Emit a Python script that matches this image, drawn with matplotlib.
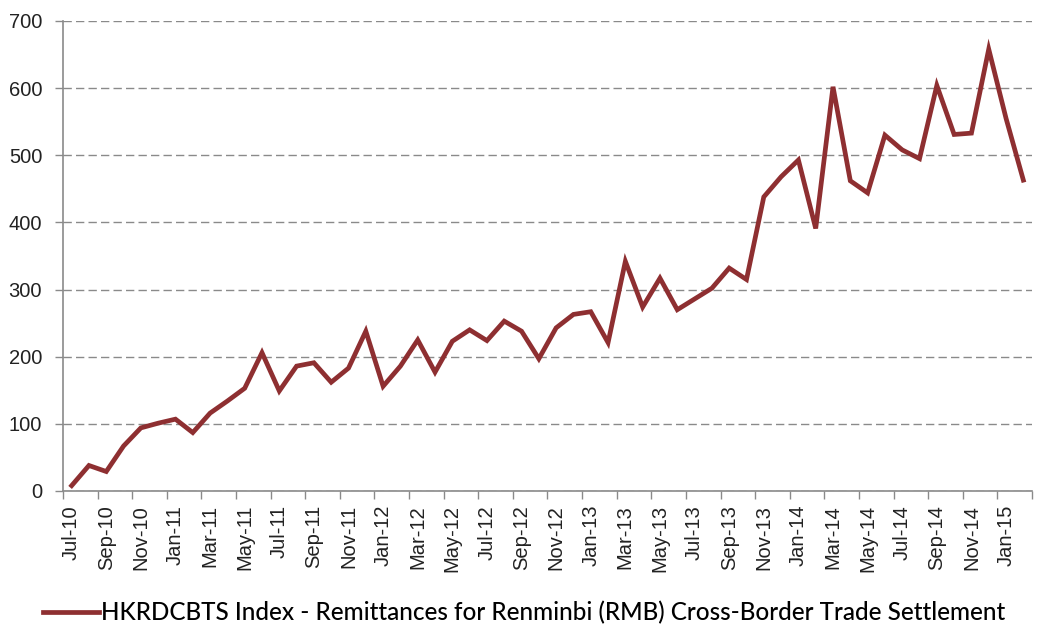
import matplotlib
matplotlib.use("Agg")
import matplotlib.pyplot as plt
import numpy as np

months = ["Jul-10", "Aug-10", "Sep-10", "Oct-10", "Nov-10", "Dec-10",
          "Jan-11", "Feb-11", "Mar-11", "Apr-11", "May-11", "Jun-11",
          "Jul-11", "Aug-11", "Sep-11", "Oct-11", "Nov-11", "Dec-11",
          "Jan-12", "Feb-12", "Mar-12", "Apr-12", "May-12", "Jun-12",
          "Jul-12", "Aug-12", "Sep-12", "Oct-12", "Nov-12", "Dec-12",
          "Jan-13", "Feb-13", "Mar-13", "Apr-13", "May-13", "Jun-13",
          "Jul-13", "Aug-13", "Sep-13", "Oct-13", "Nov-13", "Dec-13",
          "Jan-14", "Feb-14", "Mar-14", "Apr-14", "May-14", "Jun-14",
          "Jul-14", "Aug-14", "Sep-14", "Oct-14", "Nov-14", "Dec-14",
          "Jan-15", "Feb-15"]

values = [8, 38, 29, 67, 94, 101, 107, 87, 116, 134, 153, 206,
          149, 186, 191, 162, 183, 238, 156, 186, 225, 177, 223, 240,
          224, 253, 238, 197, 243, 263, 267, 221, 342, 274, 317, 270,
          286, 302, 332, 315, 438, 468, 493, 391, 602, 462, 444, 530,
          508, 495, 604, 531, 533, 658, 555, 463]

series_label = "HKRDCBTS Index - Remittances for Renminbi (RMB) Cross-Border Trade Settlement"
yticks = [0, 100, 200, 300, 400, 500, 600, 700]

line_color = "#8e2f31"
grid_color = "#8a8a8a"

plt.rcParams['font.family'] = ['Liberation Sans', 'DejaVu Sans']

fig = plt.figure(figsize=(10.37, 6.28), dpi=100)
ax = fig.add_axes([63 / 1037, 1 - 491 / 628, (1032 - 63) / 1037, (491 - 21) / 628])

x = np.arange(len(values))
ax.plot(x, values, color=line_color, linewidth=3.4, solid_joinstyle='miter',
        label=series_label, zorder=3)

ax.set_xlim(-0.5, len(values) - 0.5)
ax.set_ylim(0, 700)
ax.set_yticks(yticks)
ax.set_yticklabels([str(v) for v in yticks], fontsize=14.5, color="#222222")

ax.set_xticks(x[::2])
ax.set_xticklabels(months[::2], rotation=90, fontsize=14.5, color="#222222")
ax.tick_params(axis='x', which='major', length=0, pad=10)
ax.set_xticks(np.arange(-0.5, len(values), 2), minor=True)
ax.tick_params(axis='x', which='minor', length=6, width=1, color=grid_color, direction='out')
ax.tick_params(axis='y', which='major', length=6, width=1, color=grid_color, pad=9)

for sp in ['top', 'right']:
    ax.spines[sp].set_visible(False)
for sp in ['left', 'bottom']:
    ax.spines[sp].set_color(grid_color)
    ax.spines[sp].set_linewidth(1.2)

ax.yaxis.grid(True, color=grid_color, linestyle=(0, (6, 3)), linewidth=1)
ax.set_axisbelow(True)

leg = fig.legend(handles=ax.get_lines(), labels=[series_label],
                 loc='center', bbox_to_anchor=(524 / 1037, 1 - 613 / 628),
                 frameon=False, handlelength=2.3, handletextpad=0.1,
                 prop={'family': ['Lato', 'DejaVu Sans'], 'size': 17.5, 'weight': 'medium'})

fig.savefig("out.png", dpi=100)
